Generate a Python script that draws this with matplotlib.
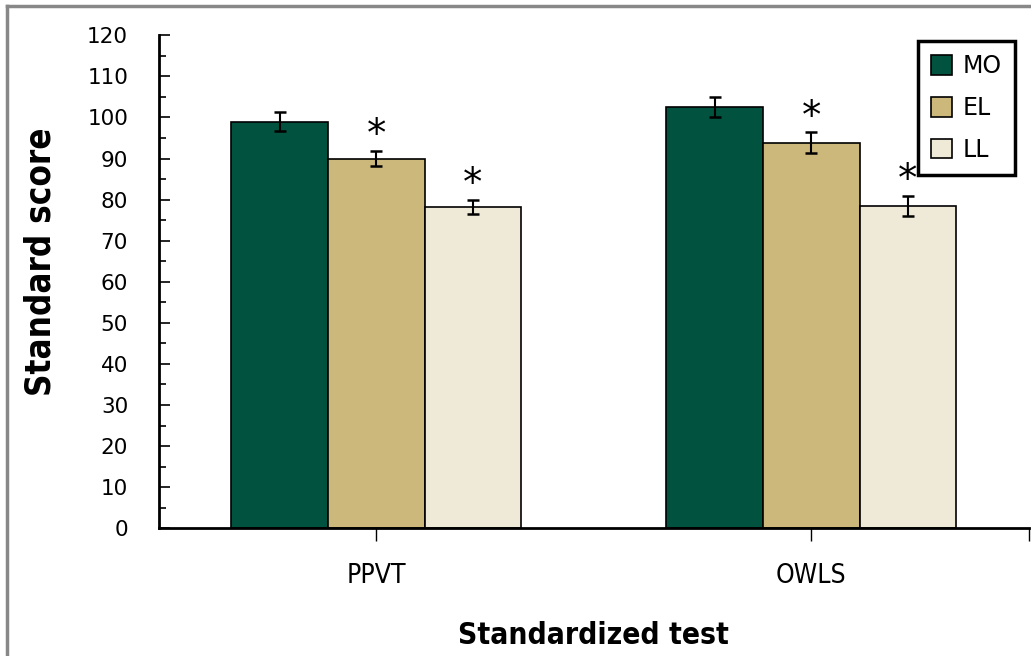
import numpy as np
import matplotlib
matplotlib.use('Agg')
import matplotlib.pyplot as plt
from matplotlib.lines import Line2D

tests = ['PPVT', 'OWLS']
groups = ['MO', 'EL', 'LL']
scores = {'MO': [99.0, 102.5],
          'EL': [90.0, 93.9],
          'LL': [78.3, 78.5]}
errors = {'MO': [2.3, 2.4],
          'EL': [1.9, 2.5],
          'LL': [1.7, 2.4]}
signif = {'MO': [False, False],
          'EL': [True, True],
          'LL': [True, True]}
colors = {'MO': '#01523f', 'EL': '#cbb87a', 'LL': '#efe9d7'}

plt.rcParams['font.family'] = 'DejaVu Sans'

fig = plt.figure(figsize=(10.31, 6.56), dpi=100)
ax = fig.add_axes([0.1539, 0.1947, 0.998 - 0.1539, 0.9462 - 0.1947])

x = np.arange(len(tests))
width = 0.222
for i, g in enumerate(groups):
    pos = x + (i - 1) * width
    ax.bar(pos, scores[g], width, color=colors[g], edgecolor='black',
           linewidth=1.2, label=g, zorder=2)
    ax.errorbar(pos, scores[g], yerr=errors[g], fmt='none', ecolor='black',
                elinewidth=1.5, capsize=4, capthick=1.8, zorder=3)
    for j in range(len(tests)):
        if signif[g][j]:
            ax.text(pos[j], scores[g][j] + errors[g][j] - 0.8, '*',
                    ha='center', va='bottom', fontsize=28)

ax.set_xlim(-0.5, 1.5)
ax.set_ylim(0, 120)
ax.set_yticks(np.arange(0, 121, 10))
ax.set_yticks(np.arange(5, 120, 10), minor=True)
ax.tick_params(axis='y', which='major', direction='in', length=8, width=1.2,
               labelsize=15.5, pad=22)
ax.tick_params(axis='y', which='minor', direction='in', length=5, width=1.2)
ax.set_xticks([0, 1, 1.5])
ax.set_xticklabels([])
ax.tick_params(axis='x', direction='out', length=9, width=1.0)
for j, t in enumerate(tests):
    ax.text(j, -11.6, t, ha='center', va='center', fontsize=19,
            fontstretch='condensed')

for side in ['top', 'right']:
    ax.spines[side].set_visible(False)
ax.spines['left'].set_linewidth(2)
ax.spines['bottom'].set_linewidth(2)

ax.set_ylabel('Standard score', fontsize=25, fontweight='bold',
              fontstretch='condensed')
ax.yaxis.set_label_coords(-0.116, 0.54)
fig.text(0.576, 0.032, 'Standardized test', ha='center', va='center',
         fontsize=21.5, fontweight='bold', fontstretch='condensed')

leg = ax.legend(loc='upper right', bbox_to_anchor=(0.984, 0.988),
                borderaxespad=0, fancybox=False, framealpha=1,
                edgecolor='black', fontsize=17, handlelength=0.9,
                handleheight=0.9, labelspacing=0.75, borderpad=0.55,
                handletextpad=0.45)
leg.get_frame().set_linewidth(2.5)

# thin grey frame along the left and top of the figure
fig.add_artist(Line2D([0.0068, 0.0068], [0, 0.991], color='#888888', lw=2.5))
fig.add_artist(Line2D([0.0068, 1.0], [0.991, 0.991], color='#888888', lw=2.5))

fig.savefig('out.png', dpi=100)
